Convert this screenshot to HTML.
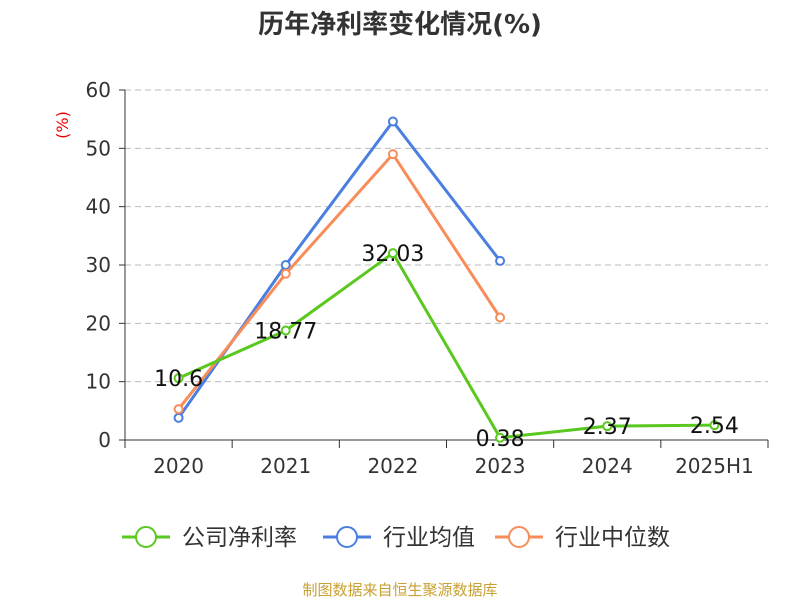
<!DOCTYPE html>
<html><head><meta charset="utf-8"><style>
body{margin:0;background:#fff;}
svg{display:block;font-family:"DejaVu Sans","Noto Sans CJK SC",sans-serif;}
</style></head><body>
<svg id="chart" width="800" height="600">
<text x="400" y="33" text-anchor="middle" font-size="26" font-weight="bold" fill="#333">历年净利率变化情况(%)</text>
<text transform="translate(68,125) rotate(-90)" text-anchor="middle" font-size="16" fill="#e00">(%)</text>
<g id="grid"></g><g id="axes"></g><g id="series"></g>
<g id="legend"></g>
<text x="400" y="595" text-anchor="middle" font-size="15" fill="#c9a032">制图数据来自恒生聚源数据库</text>
</svg>
<script>
const categories=["2020","2021","2022","2023","2024","2025H1"];
const yTicks=[0,10,20,30,40,50,60];
const companyVals=[10.6,18.77,32.03,0.38,2.37,2.54];
const companyLabels=["10.6","18.77","32.03","0.38","2.37","2.54"];
const industryAvg=[3.8,30,54.6,30.7,null,null];
const industryMedian=[5.3,28.5,49,21,null,null];
const NS="http://www.w3.org/2000/svg";
const L=125,R=768,T=90,B=440,yMax=60;
const bw=(R-L)/categories.length;
const x=i=>L+bw*(i+0.5);
const y=v=>B-(v/yMax)*(B-T);
function mk(tag,attrs,parent,text){const e=document.createElementNS(NS,tag);for(const k in attrs)e.setAttribute(k,attrs[k]);if(text!==undefined)e.textContent=text;parent.appendChild(e);return e;}
const grid=document.getElementById('grid'),axes=document.getElementById('axes'),ser=document.getElementById('series'),leg=document.getElementById('legend');
yTicks.forEach(t=>{
 if(t>0){const g=mk('line',{x1:L,x2:R,y1:y(t),y2:y(t),stroke:'#bbb','stroke-dasharray':'6,4'},grid);
 
 }
 const tk=mk('line',{x1:L-6,x2:L,y1:y(t),y2:y(t),stroke:'#333'},axes);
 
 
 const lb=mk('text',{x:L-14,y:y(t)+7,'text-anchor':'end','font-size':20,fill:'#333'},axes,t);
 
 
});
const ya=mk('line',{x1:L,x2:L,y1:T,y2:B,stroke:'#333'},axes);


const xa=mk('line',{x1:L,x2:R,y1:B,y2:B,stroke:'#333'},axes);


for(let i=0;i<=categories.length;i++){const tk=mk('line',{x1:L+bw*i,x2:L+bw*i,y1:B,y2:B+8,stroke:'#333'},axes);
 
 }
categories.forEach((c,i)=>{const t=mk('text',{x:x(i),y:B+33,'text-anchor':'middle','font-size':20,fill:'#333'},axes,c);
 
 });
function series(vals,color,name){
 const pts=vals.map((v,i)=>v==null?null:[x(i),y(v)]).filter(p=>p);
 const p=mk('polyline',{points:pts.map(p=>p.join(',')).join(' '),fill:'none',stroke:color,'stroke-width':3},ser);
 
 
 pts.forEach(q=>{const c=mk('circle',{cx:q[0],cy:q[1],r:4,fill:'#fff',stroke:color,'stroke-width':2},ser);
 
 });
}
series(industryAvg,'#4a7fe0','industry-average');
series(industryMedian,'#f98d5a','industry-median');
series(companyVals,'#5ac81e','company-net-margin');
companyVals.forEach((v,i)=>{const t=mk('text',{x:x(i),y:y(v)+8,'text-anchor':'middle','font-size':22,fill:'#111'},ser,companyLabels[i]);
 
 });
const items=[["公司净利率","#5ac81e",122],["行业均值","#4a7fe0",323],["行业中位数","#f98d5a",495]];
items.forEach(([n,c,lx])=>{
 const g=mk('g',{},leg);
 
 
 mk('line',{x1:lx,x2:lx+48,y1:537,y2:537,stroke:c,'stroke-width':3},g);
 mk('circle',{cx:lx+24,cy:537,r:10,fill:'#fff',stroke:c,'stroke-width':2},g);
 mk('text',{x:lx+60,y:545,'font-size':23,fill:'#333'},g,n);
});
</script>
</body></html>
